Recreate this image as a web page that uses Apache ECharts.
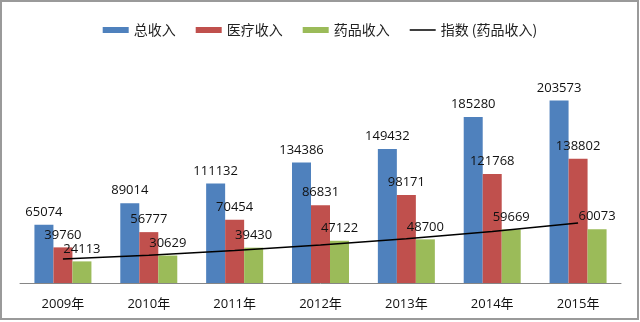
<!DOCTYPE html>
<html>
<head>
<meta charset="utf-8">
<script src="https://cdn.jsdelivr.net/npm/echarts@6/dist/echarts.min.js"></script>
<style>
  html, body { margin: 0; padding: 0; background: #fff; }
  #chart { width: 640px; height: 322px; }
</style>
</head>
<body>
<div id="chart"></div>
<script>
// 收入数据 (2009–2015)
const years = ['2009年', '2010年', '2011年', '2012年', '2013年', '2014年', '2015年'];
const totalIncome = [65074, 89014, 111132, 134386, 149432, 185280, 203573];
const medicalIncome = [39760, 56777, 70454, 86831, 98171, 121768, 138802];
const drugIncome = [24113, 30629, 39430, 47122, 48700, 59669, 60073];
// 药品收入的指数趋势线取值
const drugTrend = [26700, 31100, 36300, 42300, 49300, 57400, 66900];

const seriesNames = ['总收入', '医疗收入', '药品收入', '指数 (药品收入)'];
const colors = ['#4F81BD', '#C0504D', '#9BBB59', '#000000'];

const numFont = '"Open Sans", "Noto Sans CJK SC", sans-serif';

// 图例中趋势线的细线图标（上下两个零面积点撑开包围盒）
const thinLineIcon = 'path://M0,0L0.01,0L0,0Z M0,2.3H26V3.7H0Z M0,6L0.01,6L0,6Z';

function barSeries(name, data, color) {
  return {
    name: name,
    type: 'bar',
    data: data,
    barWidth: 19,
    barGap: '0%',
    itemStyle: { color: color },
    label: {
      show: true,
      position: 'top',
      distance: 6,
      color: '#111',
      fontSize: 13,
      fontFamily: numFont
    },
    z: 2
  };
}

const chart = echarts.init(document.getElementById('chart'), null, { renderer: 'canvas' });
chart.setOption({
  backgroundColor: '#ffffff',
  animation: false,
  color: colors,
  graphic: [{
    type: 'rect',
    shape: { x: 1, y: 1, width: 637, height: 318 },
    style: { fill: 'none', stroke: '#9a9a9a', lineWidth: 2 },
    silent: true,
    z: 100
  }],
  legend: {
    top: 18,
    left: 'center',
    itemWidth: 26,
    itemHeight: 6,
    itemGap: 20,
    textStyle: {
      fontSize: 14,
      color: '#222',
      fontFamily: '"Noto Sans CJK SC", sans-serif'
    },
    data: [
      { name: seriesNames[0], icon: 'rect' },
      { name: seriesNames[1], icon: 'rect' },
      { name: seriesNames[2], icon: 'rect' },
      { name: seriesNames[3], icon: thinLineIcon, itemStyle: { color: '#000' } }
    ]
  },
  grid: { left: 20, right: 19, top: 59, bottom: 39, containLabel: false },
  xAxis: {
    type: 'category',
    data: years,
    boundaryGap: true,
    axisLine: { lineStyle: { color: '#868686', width: 1 } },
    axisTick: { show: false },
    axisLabel: {
      margin: 15,
      fontSize: 13,
      color: '#111',
      fontFamily: numFont
    }
  },
  yAxis: {
    type: 'value',
    min: 0,
    max: 250000,
    interval: 50000,
    show: false,
    splitLine: { show: false }
  },
  series: [
    barSeries(seriesNames[0], totalIncome, colors[0]),
    barSeries(seriesNames[1], medicalIncome, colors[1]),
    barSeries(seriesNames[2], drugIncome, colors[2]),
    {
      name: seriesNames[3],
      type: 'line',
      data: drugTrend,
      symbol: 'none',
      showSymbol: false,
      lineStyle: { color: '#000', width: 1.5 },
      itemStyle: { color: '#000' },
      z: 5
    }
  ]
});
</script>
</body>
</html>
